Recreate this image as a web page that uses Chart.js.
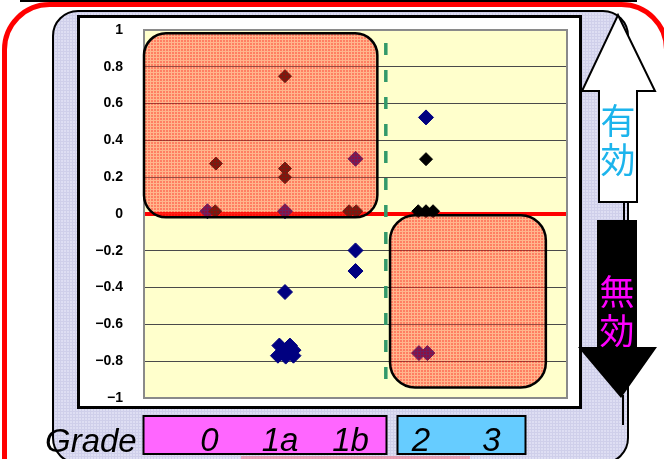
<!DOCTYPE html>
<html>
<head>
<meta charset="utf-8">
<script src="https://cdn.jsdelivr.net/npm/chart.js@4"></script>
<style>
  html, body { margin: 0; padding: 0; background: #fff; }
  canvas { display: block; }
</style>
</head>
<body>
<canvas id="myChart" width="664" height="459"></canvas>
<script>
// grade categories along the bottom, placed at x = 1..5
const gradeLabels = ["0", "1a", "1b", "2", "3"];
const gradePositions = [1, 2, 3, 4, 5];
const yTickLabels = ["−1", "−0.8", "−0.6", "−0.4", "−0.2", "0", "0.2", "0.4", "0.6", "0.8", "1"];

// navy diamonds
const blueX = [0.9, 2.0, 3.0, 2.0, 3.0, 3.0, 1.92, 2.07, 1.9, 2.01, 2.12, 2.0, 2.12, 4.0, 3.9, 4.02];
const blueY = [0.015, 0.015, 0.30, -0.424, -0.198, -0.31, -0.715, -0.715, -0.77, -0.775, -0.77, -0.745, -0.74, 0.525, -0.756, -0.756];

// black diamonds
const blackX = [1.02, 1.01, 2.0, 2.0, 2.0, 2.91, 3.01, 4.0, 3.89, 4.0, 4.1];
const blackY = [0.274, 0.015, 0.749, 0.247, 0.20, 0.015, 0.015, 0.298, 0.015, 0.015, 0.015];

const effectiveText = "有効";
const ineffectiveText = "無効";
const axisTitle = "Grade";

function toPoints(xs, ys) {
  return xs.map((x, i) => ({ x: x, y: ys[i] }));
}

function roundRect(ctx, x, y, w, h, r) {
  ctx.beginPath();
  ctx.moveTo(x + r, y);
  ctx.arcTo(x + w, y, x + w, y + h, r);
  ctx.arcTo(x + w, y + h, x, y + h, r);
  ctx.arcTo(x, y + h, x, y, r);
  ctx.arcTo(x, y, x + w, y, r);
  ctx.closePath();
}

function makePattern(ctx, base, line, size) {
  const c = document.createElement("canvas");
  c.width = size;
  c.height = size;
  const p = c.getContext("2d");
  p.fillStyle = base;
  p.fillRect(0, 0, size, size);
  p.clearRect(0, 0, size, 1);
  p.clearRect(0, 0, 1, size);
  p.fillStyle = line;
  p.fillRect(0, 0, size, 1);
  p.fillRect(0, 1, 1, size - 1);
  return ctx.createPattern(c, "repeat");
}

const slidePlugin = {
  id: "slide",
  beforeDraw(chart) {
    const ctx = chart.ctx;
    const a = chart.chartArea;
    ctx.save();
    ctx.fillStyle = "#fff";
    ctx.fillRect(0, 0, chart.width, chart.height);

    // edge of the shape above
    ctx.fillStyle = "#000";
    ctx.fillRect(20, 0, 617, 2);

    // red frame
    ctx.lineWidth = 5;
    ctx.strokeStyle = "#ff0000";
    roundRect(ctx, 4.5, 4.5, 662, 520, 45);
    ctx.stroke();

    // lavender panel
    ctx.fillStyle = makePattern(ctx, "#dedef3", "#cfcfea", 3);
    roundRect(ctx, 53, 11, 575, 452, 25);
    ctx.fill();
    ctx.lineWidth = 2;
    ctx.strokeStyle = "#000";
    ctx.stroke();

    // white chart box
    ctx.fillStyle = "#fff";
    ctx.fillRect(78.5, 16.5, 502, 391);
    ctx.lineWidth = 3;
    ctx.strokeRect(78.5, 16.5, 502, 391);

    // plot background
    ctx.fillStyle = "#ffffcc";
    ctx.fillRect(a.left, a.top, a.right - a.left, a.bottom - a.top);
    ctx.restore();
  },
  beforeDatasetsDraw(chart) {
    const ctx = chart.ctx;
    const a = chart.chartArea;
    ctx.save();
    ctx.lineWidth = 2;
    ctx.strokeStyle = "#8a8a8a";
    ctx.strokeRect(a.left, a.top, a.right - a.left, a.bottom - a.top);
    ctx.restore();
  },
  afterDatasetsDraw(chart) {
    const ctx = chart.ctx;
    const xs = chart.scales.x;
    const ys = chart.scales.y;
    ctx.save();
    const fill = makePattern(ctx, "rgba(255,25,15,0.56)", "rgba(255,80,55,0.42)", 3);
    const zones = [
      { x0: 0, x1: 3.31, y0: 0.982, y1: -0.018, r: 22 },
      { x0: 3.49, x1: 5.70, y0: -0.007, y1: -0.943, r: 25 }
    ];
    zones.forEach(z => {
      const left = xs.getPixelForValue(z.x0);
      const right = xs.getPixelForValue(z.x1);
      const top = ys.getPixelForValue(z.y0);
      const bottom = ys.getPixelForValue(z.y1);
      roundRect(ctx, left, top, right - left, bottom - top, z.r);
      ctx.fillStyle = fill;
      ctx.fill();
      ctx.lineWidth = 2.5;
      ctx.strokeStyle = "#000";
      ctx.stroke();
    });

    // green dashed divider
    const dx = xs.getPixelForValue(3.43);
    ctx.beginPath();
    ctx.setLineDash([12, 15]);
    ctx.lineWidth = 3.5;
    ctx.strokeStyle = "#33996a";
    ctx.moveTo(dx, ys.getPixelForValue(0.93));
    ctx.lineTo(dx, ys.getPixelForValue(-0.95));
    ctx.stroke();
    ctx.restore();
  },
  afterDraw(chart) {
    const ctx = chart.ctx;
    const xs = chart.scales.x;
    ctx.save();

    // connecting line between arrows
    ctx.strokeStyle = "#000";
    ctx.lineWidth = 2;
    ctx.beginPath();
    ctx.moveTo(624, 200);
    ctx.lineTo(624, 225);
    ctx.moveTo(623, 395);
    ctx.lineTo(623, 425);
    ctx.stroke();

    // white up arrow
    ctx.beginPath();
    ctx.moveTo(618, 15);
    ctx.lineTo(655, 91);
    ctx.lineTo(637, 91);
    ctx.lineTo(637, 202);
    ctx.lineTo(599, 202);
    ctx.lineTo(599, 91);
    ctx.lineTo(582, 91);
    ctx.closePath();
    ctx.fillStyle = "#fff";
    ctx.fill();
    ctx.lineWidth = 2;
    ctx.strokeStyle = "#000";
    ctx.stroke();

    // black down arrow
    ctx.beginPath();
    ctx.moveTo(597, 220);
    ctx.lineTo(637, 220);
    ctx.lineTo(637, 347);
    ctx.lineTo(657, 347);
    ctx.lineTo(621, 398);
    ctx.lineTo(578, 347);
    ctx.lineTo(597, 347);
    ctx.closePath();
    ctx.fillStyle = "#000";
    ctx.fill();

    ctx.font = '35px "Noto Sans CJK JP"';
    ctx.textAlign = "center";
    ctx.textBaseline = "middle";
    ctx.fillStyle = "#1cb4ec";
    ctx.fillText(effectiveText[0], 618, 121);
    ctx.fillText(effectiveText[1], 618, 160);
    ctx.fillStyle = "#ff00ff";
    ctx.fillText(ineffectiveText[0], 617, 292);
    ctx.fillText(ineffectiveText[1], 617, 331);

    // grade boxes
    ctx.lineWidth = 2;
    ctx.strokeStyle = "#000";
    ctx.fillStyle = "#ff66ff";
    ctx.fillRect(143.5, 416, 243, 38);
    ctx.strokeRect(143.5, 416, 243, 38);
    ctx.fillStyle = "#66ccff";
    ctx.fillRect(397.5, 416, 128, 38);
    ctx.strokeRect(397.5, 416, 128, 38);

    ctx.fillStyle = "rgba(240,120,140,0.6)";
    ctx.fillRect(241, 456, 229, 3);

    ctx.fillStyle = "#000";
    ctx.textBaseline = "alphabetic";
    ctx.font = 'italic 33px "Liberation Sans"';
    ctx.textAlign = "left";
    ctx.fillText(axisTitle, 45, 452);
    ctx.textAlign = "center";
    gradeLabels.forEach((label, i) => {
      ctx.fillText(label, xs.getPixelForValue(gradePositions[i]) - 5, 451);
    });
    ctx.restore();
  }
};

const chartCanvas = document.getElementById("myChart");
const chart = new Chart(chartCanvas, {
  type: "scatter",
  data: {
    datasets: [
      {
        label: "black",
        data: toPoints(blackX, blackY),
        pointStyle: "rectRot",
        pointRadius: 6.5,
        backgroundColor: "#000000",
        borderColor: "#000000",
        borderWidth: 1
      },
      {
        label: "navy",
        data: toPoints(blueX, blueY),
        pointStyle: "rectRot",
        pointRadius: 7.5,
        backgroundColor: "#000080",
        borderColor: "#000080",
        borderWidth: 1
      }
    ]
  },
  options: {
    responsive: false,
    animation: false,
    layout: { padding: { top: 30, right: 97, bottom: 61, left: 0 } },
    plugins: {
      legend: { display: false },
      tooltip: { enabled: false }
    },
    scales: {
      x: {
        type: "linear",
        display: false,
        min: 0,
        max: 6
      },
      y: {
        min: -1,
        max: 1,
        afterFit: (scale) => { scale.width = 144; },
        border: { display: false },
        ticks: {
          stepSize: 0.2,
          padding: 21,
          color: "#000",
          font: { family: "Liberation Sans", size: 14, weight: "bold" },
          callback: (value, index) => yTickLabels[index]
        },
        grid: {
          drawTicks: false,
          color: (c) => {
            const v = c.tick.value;
            if (Math.abs(v) < 1e-9) return "#ff0000";
            if (Math.abs(Math.abs(v) - 1) < 1e-9) return "rgba(0,0,0,0)";
            return "#4a4a4a";
          },
          lineWidth: (c) => (Math.abs(c.tick.value) < 1e-9 ? 4 : 1)
        }
      }
    }
  },
  plugins: [slidePlugin]
});
</script>
</body>
</html>
